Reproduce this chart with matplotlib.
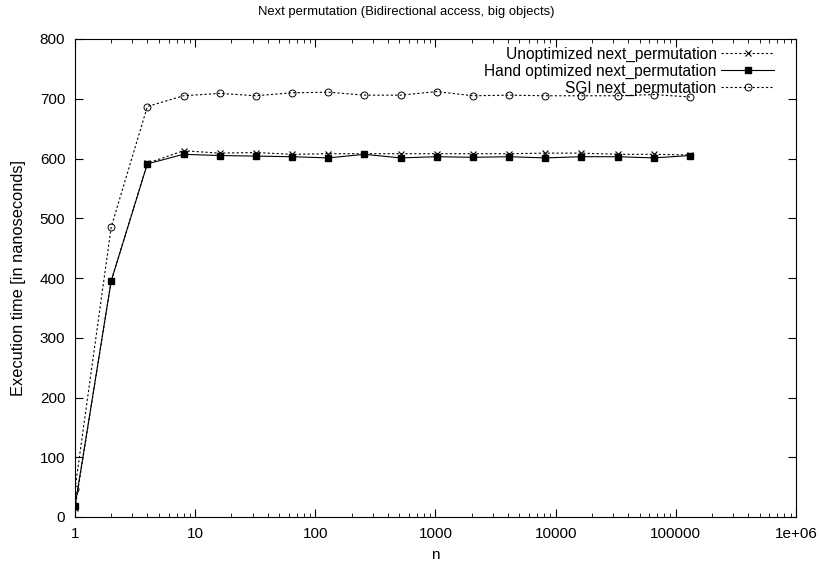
import matplotlib
matplotlib.use("Agg")
import matplotlib.pyplot as plt
import numpy as np

plt.rcParams['font.family'] = ['Liberation Sans', 'DejaVu Sans']

n = [2 ** i for i in range(18)]

unoptimized = [15, 395, 592, 613, 609, 610, 607, 608, 608, 608, 608, 608, 608, 609, 609, 607, 607, 606]
hand_optimized = [18, 395, 591, 607, 605, 604, 603, 601, 607, 601, 603, 602, 603, 601, 603, 603, 601, 605]
sgi = [47, 485, 687, 705, 709, 705, 710, 711, 706, 706, 712, 705, 706, 705, 705, 705, 707, 703]

labels = ["Unoptimized next_permutation", "Hand optimized next_permutation", "SGI next_permutation"]

fig = plt.figure(figsize=(8.2, 5.66), dpi=100)
ax = fig.add_axes([75 / 820, 1 - 517 / 566, (796 - 75) / 820, (517 - 39) / 566])

ax.plot(n, unoptimized, color='black', lw=0.8, linestyle=(0, (2, 2)),
        marker='x', ms=5, mew=0.8, label=labels[0])
ax.plot(n, hand_optimized, color='black', lw=0.8, linestyle='-',
        marker='s', ms=5, label=labels[1])
ax.plot(n, sgi, color='black', lw=0.8, linestyle=(0, (2, 2)),
        marker='o', ms=5, mfc='none', mew=0.7, label=labels[2])

ax.set_xscale('log')
ax.set_xlim(1, 1e6)
ax.set_ylim(0, 800)
ax.set_yticks(np.arange(0, 801, 100))
ax.set_xticks([1, 10, 100, 1000, 10000, 100000, 1e6])
ax.set_xticklabels(["1", "10", "100", "1000", "10000", "100000", "1e+06"])
ax.tick_params(which='both', direction='in', top=True, right=True, labelsize=11)
ax.tick_params(which='major', length=6, pad=7)
ax.tick_params(which='minor', length=3)

ax.set_xlabel("n", fontsize=11, labelpad=5)
ax.set_ylabel("Execution time [in nanoseconds]", fontsize=11.8, labelpad=10)
# gnuplot centres the title on the whole canvas
fig.text(406 / 820, 1 - 12 / 566, "Next permutation (Bidirectional access, big objects)",
         fontsize=9.4, ha='center', va='center')

ax.legend(loc='upper right', frameon=False, markerfirst=False, fontsize=11.2,
          handlelength=3.4, labelspacing=0.12, borderaxespad=0.2, handletextpad=0.3,
          borderpad=0.3, bbox_to_anchor=(1 - 14 / 721, 1))

fig.savefig("out.png", dpi=100)
